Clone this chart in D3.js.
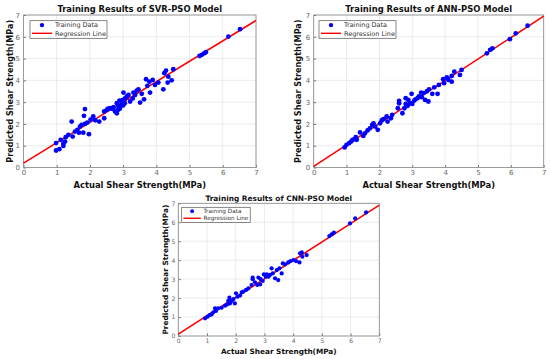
<!DOCTYPE html>
<html>
<head>
<meta charset="utf-8">
<script src="https://cdn.jsdelivr.net/npm/d3@7"></script>
<style>
  body { margin: 0; background: #fff; }
  svg { display: block; }
</style>
</head>
<body>
<svg id="chart" width="550" height="359"></svg>
<script>
const ticks = [0, 1, 2, 3, 4, 5, 6, 7];
const legendLabels = ["Training Data", "Regression Line"];
const titles = ["Training Results of SVR-PSO Model", "Training Results of ANN-PSO Model", "Training Results of CNN-PSO Model"];
const xLabel = "Actual Shear Strength(MPa)";
const yLabel = "Predicted Shear Strength(MPa)";

// SVR-PSO
const svrActual = [0.98, 1.08, 0.98, 1.12, 1.2, 1.2, 1.25, 1.27, 1.35, 1.45, 1.48, 1.55, 1.62, 1.67, 1.7, 1.75, 1.8, 1.82, 1.85, 1.85,
  1.92, 1.97, 2.02, 2.1, 2.16, 2.28, 2.43, 2.43, 2.51, 2.61, 2.71, 2.76, 2.81, 2.81, 2.86, 2.89, 2.93, 2.96, 2.99, 3.01,
  3.06, 3.11, 3.16, 3.21, 3.29, 3.31, 3.36, 3.41, 3.46, 3.51, 3.56, 3.63, 3.69, 3.73, 3.79, 3.81, 3.89, 3.96, 4.06, 4.21,
  4.24, 4.29, 4.34, 4.36, 4.46, 4.51, 5.3, 5.37, 5.44, 5.49, 6.17, 6.52, 2.85, 2.9, 3.0, 3.05, 2.75, 2.65, 2.55];
const svrPred = [0.78, 0.84, 1.12, 1.27, 1.09, 0.99, 1.19, 1.39, 1.5, 2.11, 1.42, 1.65, 1.73, 1.6, 1.88, 1.96, 1.6, 2.37, 2.68, 2.0,
  2.06, 1.53, 2.2, 2.34, 2.17, 2.11, 2.26, 2.57, 2.65, 2.72, 2.77, 2.57, 2.49, 2.95, 2.8, 3.07, 2.83, 2.92, 3.1, 3.44,
  3.17, 3.26, 3.33, 3.03, 3.17, 3.44, 3.33, 3.53, 3.59, 2.98, 3.38, 3.13, 4.05, 3.75, 3.94, 3.44, 4.02, 3.79, 3.9, 3.59,
  4.33, 4.45, 3.9, 4.17, 4.0, 4.51, 5.12, 5.17, 5.24, 5.29, 6.01, 6.35, 2.65, 2.7, 2.85, 2.95, 2.6, 2.7, 2.7];
const svrLine = [0.2, 6.75];

// ANN-PSO
const annActual = [0.94, 1.0, 1.08, 1.14, 1.18, 1.24, 1.28, 1.31, 1.41, 1.51, 1.56, 1.64, 1.71, 1.78, 1.82, 1.87, 1.95, 2.02, 2.07, 2.12,
  2.22, 2.25, 2.35, 2.39, 2.56, 2.6, 2.6, 2.7, 2.76, 2.8, 2.8, 2.86, 2.88, 2.93, 2.98, 3.0, 3.06, 3.1, 3.16, 3.2,
  3.27, 3.29, 3.34, 3.39, 3.44, 3.49, 3.51, 3.61, 3.67, 3.77, 3.81, 3.94, 3.97, 4.05, 4.1, 4.2, 4.2, 4.28, 4.45, 4.5,
  5.27, 5.37, 5.44, 5.97, 6.15, 6.51];
const annPred = [0.92, 1.04, 1.12, 1.19, 1.27, 1.3, 1.39, 1.27, 1.61, 1.45, 1.57, 1.7, 1.8, 1.96, 2.03, 1.88, 1.73, 2.03, 2.16, 2.22,
  2.34, 2.11, 2.26, 2.42, 2.72, 3.06, 2.95, 2.49, 2.72, 2.92, 3.18, 2.83, 3.1, 2.95, 3.38, 2.92, 3.07, 3.13, 3.18, 3.26,
  3.44, 3.23, 3.41, 3.1, 3.49, 3.03, 3.59, 3.38, 3.68, 3.38, 3.79, 4.05, 3.87, 4.14, 4.02, 4.2, 3.94, 4.4, 4.25, 4.48,
  5.24, 5.4, 5.47, 5.89, 6.16, 6.51];
const annLine = [0.05, 6.95];

// CNN-PSO
const cnnActual = [0.93, 1.02, 1.1, 1.16, 1.22, 1.28, 1.31, 1.39, 1.51, 1.63, 1.71, 1.74, 1.78, 1.8, 1.86, 1.92, 1.97, 2.01, 2.06, 2.15,
  2.21, 2.26, 2.36, 2.44, 2.55, 2.59, 2.59, 2.67, 2.75, 2.79, 2.85, 2.87, 2.94, 2.98, 3.05, 3.08, 3.14, 3.19, 3.25, 3.29,
  3.37, 3.43, 3.48, 3.52, 3.6, 3.64, 3.72, 3.83, 3.91, 4.01, 4.1, 4.22, 4.24, 4.3, 4.32, 4.47, 5.26, 5.34, 5.42, 5.98,
  6.16, 6.54];
const cnnPred = [0.93, 1.02, 1.11, 1.14, 1.25, 1.46, 1.32, 1.46, 1.49, 1.6, 1.67, 1.85, 2.02, 1.72, 1.85, 1.95, 1.72, 2.25, 2.07, 2.13,
  2.3, 2.34, 2.43, 2.51, 2.69, 3.0, 3.08, 2.83, 2.69, 3.08, 2.72, 3.0, 2.9, 3.25, 3.13, 3.25, 3.13, 3.22, 3.57, 3.3,
  3.04, 3.48, 2.95, 3.57, 3.3, 3.83, 3.78, 3.88, 3.95, 4.01, 3.95, 3.88, 4.36, 4.41, 4.18, 4.27, 5.27, 5.36, 5.45, 5.94,
  6.2, 6.52];
const cnnLine = [0.1, 6.9];

const svg = d3.select("#chart");
const font = "'DejaVu Sans', Verdana, sans-serif";

// shrink/grow a text so it spans a given width
function fit(sel, w) {
    const len = sel.node().getComputedTextLength();
    const fs = parseFloat(sel.style("font-size"));
    sel.style("font-size", (fs * w / len) + "px");
}

function drawPanel(o) {
    const x = d3.scaleLinear().domain([0, 7]).range([o.x0, o.x1]);
    const y = d3.scaleLinear().domain([0, 7]).range([o.y0, o.y1]);
    const g = svg.append("g");
    const k = o.k;

    // grid
    g.selectAll(".gx").data(ticks).enter().append("line")
        .attr("x1", d => x(d)).attr("x2", d => x(d))
        .attr("y1", o.y0).attr("y2", o.y1)
        .attr("stroke", "#e6e6e6").attr("stroke-width", 0.8);
    g.selectAll(".gy").data(ticks).enter().append("line")
        .attr("y1", d => y(d)).attr("y2", d => y(d))
        .attr("x1", o.x0).attr("x2", o.x1)
        .attr("stroke", "#e6e6e6").attr("stroke-width", 0.8);

    // axes
    const xa = g.append("g").attr("transform", `translate(0,${o.y0})`)
        .call(d3.axisBottom(x).tickValues(ticks).tickSize(-2.5).tickPadding(3 * k).tickFormat(d3.format("d")));
    const ya = g.append("g").attr("transform", `translate(${o.x0},0)`)
        .call(d3.axisLeft(y).tickValues(ticks).tickSize(-2.5).tickPadding(3.5 * k).tickFormat(d3.format("d")));
    [xa, ya].forEach(a => {
        a.select(".domain").remove();
        a.selectAll("line").attr("stroke", "#777");
        a.selectAll("text").attr("fill", "#666").style("font-family", font).style("font-size", (7 * k) + "px");
    });
    g.append("rect")
        .attr("x", o.x0).attr("y", o.y1)
        .attr("width", o.x1 - o.x0).attr("height", o.y0 - o.y1)
        .attr("fill", "none").attr("stroke", "#888").attr("stroke-width", 0.8);

    // regression line
    g.append("line")
        .attr("x1", x(0)).attr("y1", y(o.line[0]))
        .attr("x2", x(7)).attr("y2", y(o.line[1]))
        .attr("stroke", "#ff0000").attr("stroke-width", 1.6);

    // points
    g.selectAll(".pt").data(o.actual).enter().append("circle")
        .attr("cx", d => x(d)).attr("cy", (d, i) => y(o.pred[i]))
        .attr("r", o.r).attr("fill", "#0000ff");

    // legend
    const lg = g.append("g").attr("transform", `translate(${o.lx},${o.ly})`);
    lg.append("rect").attr("width", o.lw).attr("height", 17.6 * k)
        .attr("fill", "#fff").attr("stroke", "#555").attr("stroke-width", 0.7);
    lg.append("circle").attr("cx", 12 * k).attr("cy", 4.4 * k).attr("r", 2.2 * k).attr("fill", "#0000ff");
    lg.append("line").attr("x1", 2 * k).attr("x2", 22 * k).attr("y1", 12.6 * k).attr("y2", 12.6 * k)
        .attr("stroke", "#ff0000").attr("stroke-width", 1.4);
    const lt = lg.selectAll("text").data(legendLabels).enter().append("text")
        .attr("x", 25 * k).attr("y", (d, i) => (6.7 + i * 8.3) * k)
        .text(d => d)
        .style("font-family", font).style("font-size", "6px").attr("fill", "#333");
    fit(d3.select(lt.nodes()[1]), o.legW);
    d3.select(lt.nodes()[0]).style("font-size", d3.select(lt.nodes()[1]).style("font-size"));

    // title & labels
    const t = g.append("text").attr("x", (o.x0 + o.x1) / 2).attr("y", o.ty)
        .attr("text-anchor", "middle").text(o.title)
        .style("font-family", font).style("font-size", "9px").style("font-weight", "bold").attr("fill", "#111");
    fit(t, o.titleW);
    const xl = g.append("text").attr("x", (o.x0 + o.x1) / 2).attr("y", o.xly)
        .attr("text-anchor", "middle").text(xLabel)
        .style("font-family", font).style("font-size", "9px").style("font-weight", "bold").attr("fill", "#111");
    fit(xl, o.xlabW);
    const yl = g.append("text")
        .attr("transform", `translate(${o.ylx},${(o.y0 + o.y1) / 2}) rotate(-90)`)
        .attr("text-anchor", "middle").text(yLabel)
        .style("font-family", font).style("font-size", "9px").style("font-weight", "bold").attr("fill", "#111");
    fit(yl, o.ylabW);
}

drawPanel({ x0: 23.5, x1: 256, y0: 167.5, y1: 15, actual: svrActual, pred: svrPred, line: svrLine, r: 2.4, k: 1,
    lx: 30, ly: 20.7, lw: 77, legW: 51, titleW: 165, xlabW: 133, ylabW: 143,
    title: titles[0], ty: 11.5, xly: 188, ylx: 13 });
drawPanel({ x0: 313.7, x1: 543.7, y0: 167.5, y1: 15, actual: annActual, pred: annPred, line: annLine, r: 2.4, k: 1,
    lx: 319, ly: 20.7, lw: 77, legW: 51, titleW: 167, xlabW: 133, ylabW: 144,
    title: titles[1], ty: 11.5, xly: 188, ylx: 301 });
drawPanel({ x0: 178.3, x1: 379.3, y0: 336, y1: 203.3, actual: cnnActual, pred: cnnPred, line: cnnLine, r: 2.1, k: 0.87,
    lx: 181.7, ly: 207.3, lw: 68.5, legW: 45, titleW: 147, xlabW: 116, ylabW: 130,
    title: titles[2], ty: 200.7, xly: 353.5, ylx: 168 });
</script>
</body>
</html>
